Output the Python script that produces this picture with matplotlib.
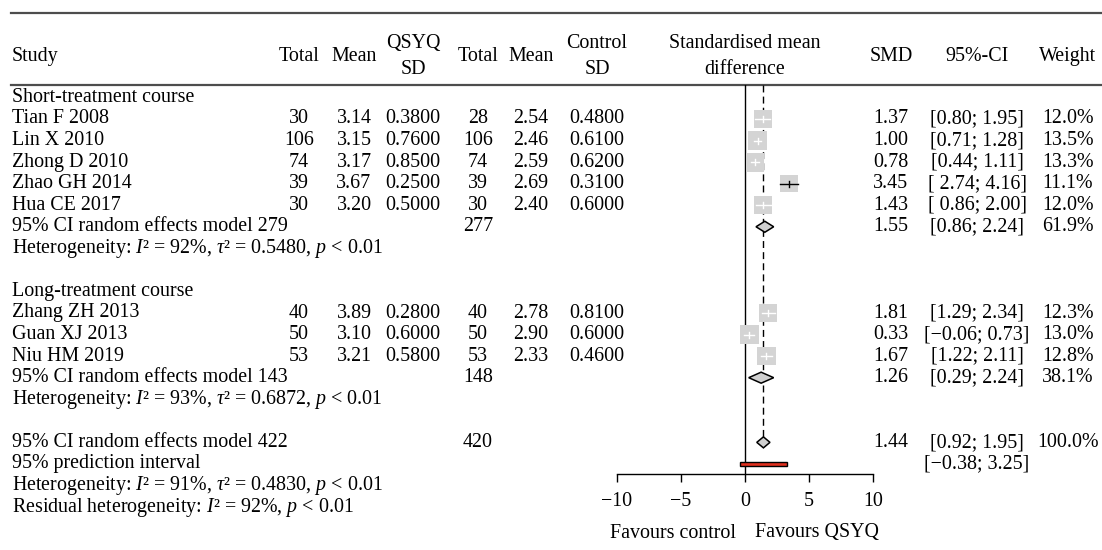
import matplotlib
matplotlib.use("Agg")
import matplotlib.pyplot as plt
from matplotlib.patches import Rectangle, Polygon
import numpy as np

plt.rcParams['font.family'] = ['Liberation Serif', 'DejaVu Serif']
plt.rcParams['mathtext.fontset'] = 'custom'
plt.rcParams['mathtext.rm'] = 'Liberation Serif'
plt.rcParams['mathtext.it'] = 'Liberation Serif:italic'

# ---- data ----
studies = ["Tian F 2008", "Lin X 2010", "Zhong D 2010", "Zhao GH 2014", "Hua CE 2017",
           "Zhang ZH 2013", "Guan XJ 2013", "Niu HM 2019"]
study_rows = [1, 2, 3, 4, 5, 10, 11, 12]
n_qsyq = [30, 106, 74, 39, 30, 40, 50, 53]
mean_qsyq = [3.14, 3.15, 3.17, 3.67, 3.20, 3.89, 3.10, 3.21]
sd_qsyq = [0.38, 0.76, 0.85, 0.25, 0.50, 0.28, 0.60, 0.58]
n_ctrl = [28, 106, 74, 39, 30, 40, 50, 53]
mean_ctrl = [2.54, 2.46, 2.59, 2.69, 2.40, 2.78, 2.90, 2.33]
sd_ctrl = [0.48, 0.61, 0.62, 0.31, 0.60, 0.81, 0.60, 0.46]
smd = [1.37, 1.00, 0.78, 3.45, 1.43, 1.81, 0.33, 1.67]
ci_lo = [0.80, 0.71, 0.44, 2.74, 0.86, 1.29, -0.06, 1.22]
ci_hi = [1.95, 1.28, 1.11, 4.16, 2.00, 2.34, 0.73, 2.11]
weight = [12.0, 13.5, 13.3, 11.1, 12.0, 12.3, 13.0, 12.8]
ci_padded = ["Zhao GH 2014", "Hua CE 2017"]

group_titles = ["Short-treatment course", "Long-treatment course"]
group_rows = [0, 9]

pooled_rows = [6, 13, 16]
pooled_n_qsyq = [279, 143, 422]
pooled_n_ctrl = [277, 148, 420]
pooled_smd = [1.55, 1.26, 1.44]
pooled_lo = [0.86, 0.29, 0.92]
pooled_hi = [2.24, 2.24, 1.95]
pooled_weight = [61.9, 38.1, 100.0]

pred_lo, pred_hi = -0.38, 3.25
pred_row = 17

het_rows = [7, 14, 18, 19]
het_text = [r"Heterogeneity: $I$² = 92%, $\tau$² = 0.5480, $p$ < 0.01",
            r"Heterogeneity: $I$² = 93%, $\tau$² = 0.6872, $p$ < 0.01",
            r"Heterogeneity: $I$² = 91%, $\tau$² = 0.4830, $p$ < 0.01",
            r"Residual heterogeneity: $I$² = 92%, $p$ < 0.01"]

xticks = [-10, -5, 0, 5, 10]

# ---- layout (pixels) ----
W, H = 1102, 550
Y0, DY = 97.4, 21.56          # first row centre, row spacing
FS = 14.4
PX_UNIT = 12.8


def row(px):
    return (px - Y0) / DY


def fmt_ci(lo, hi, pad=False):
    s = "[{}{:.2f}; {:.2f}]".format(" " if pad else "", lo, hi)
    return s.replace("-", "\u2212")


fig = plt.figure(figsize=(W / 100, H / 100), dpi=100)
ax = fig.add_axes([0, 0, 1, 1])
ax.set_xlim(0, W)
ax.set_ylim(row(H), row(0))
ax.axis('off')

# column x positions
x_study = 12
x_nq, x_mq, x_sq = 299, 354, 413
x_nc, x_mc, x_sc = 478, 531, 597
x_smd, x_ci, x_w = 891, 977, 1068

# rules
ax.plot([11, W], [row(12.5)] * 2, color='#4d4d4d', lw=1.6)
ax.plot([11, W], [row(85)] * 2, color='#4d4d4d', lw=1.6)

# header
hy, hy1, hy2 = row(56), row(43), row(69)
ax.text(x_study, hy, "Study", fontsize=FS, va='center', ha='left')
ax.text(x_nq, hy, "Total", fontsize=FS, va='center', ha='center')
ax.text(x_mq, hy, "Mean", fontsize=FS, va='center', ha='center')
ax.text(x_sq, hy1, "QSYQ", fontsize=FS, va='center', ha='center')
ax.text(x_sq, hy2, "SD", fontsize=FS, va='center', ha='center')
ax.text(x_nc, hy, "Total", fontsize=FS, va='center', ha='center')
ax.text(x_mc, hy, "Mean", fontsize=FS, va='center', ha='center')
ax.text(x_sc, hy1, "Control", fontsize=FS, va='center', ha='center')
ax.text(x_sc, hy2, "SD", fontsize=FS, va='center', ha='center')
ax.text(745, hy1, "Standardised mean", fontsize=FS, va='center', ha='center')
ax.text(745, hy2, "difference", fontsize=FS, va='center', ha='center')
ax.text(x_smd, hy, "SMD", fontsize=FS, va='center', ha='center')
ax.text(x_ci, hy, "95%-CI", fontsize=FS, va='center', ha='center')
ax.text(x_w, hy, "Weight", fontsize=FS, va='center', ha='center')

for t, r in zip(group_titles, group_rows):
    ax.text(x_study, r, t, fontsize=FS, va='center', ha='left')

for i, r in enumerate(study_rows):
    ax.text(x_study, r, studies[i], fontsize=FS, va='center', ha='left')
    ax.text(x_nq, r, str(n_qsyq[i]), fontsize=FS, va='center', ha='center')
    ax.text(x_mq, r, "{:.2f}".format(mean_qsyq[i]), fontsize=FS, va='center', ha='center')
    ax.text(x_sq, r, "{:.4f}".format(sd_qsyq[i]), fontsize=FS, va='center', ha='center')
    ax.text(x_nc, r, str(n_ctrl[i]), fontsize=FS, va='center', ha='center')
    ax.text(x_mc, r, "{:.2f}".format(mean_ctrl[i]), fontsize=FS, va='center', ha='center')
    ax.text(x_sc, r, "{:.4f}".format(sd_ctrl[i]), fontsize=FS, va='center', ha='center')
    ax.text(x_smd, r, "{:.2f}".format(smd[i]), fontsize=FS, va='center', ha='center')
    ax.text(x_ci, r, fmt_ci(ci_lo[i], ci_hi[i], studies[i] in ci_padded),
            fontsize=FS, va='center', ha='center')
    ax.text(x_w, r, "{:.1f}%".format(weight[i]), fontsize=FS, va='center', ha='center')

for j, r in enumerate(pooled_rows):
    ax.text(x_study, r, "95% CI random effects model {}".format(pooled_n_qsyq[j]),
            fontsize=FS, va='center', ha='left')
    ax.text(x_nc, r, str(pooled_n_ctrl[j]), fontsize=FS, va='center', ha='center')
    ax.text(x_smd, r, "{:.2f}".format(pooled_smd[j]), fontsize=FS, va='center', ha='center')
    ax.text(x_ci, r, fmt_ci(pooled_lo[j], pooled_hi[j]), fontsize=FS, va='center', ha='center')
    ax.text(x_w, r, "{:.1f}%".format(pooled_weight[j]), fontsize=FS, va='center', ha='center')

ax.text(x_study, pred_row, "95% prediction interval", fontsize=FS, va='center', ha='left')
ax.text(x_ci, pred_row, fmt_ci(pred_lo, pred_hi), fontsize=FS, va='center', ha='center')

for t, r in zip(het_text, het_rows):
    ax.text(x_study, r, t, fontsize=FS, va='center', ha='left')

ax.text(736, row(533), "Favours control", fontsize=FS, va='center', ha='right')
ax.text(755, row(533), "Favours QSYQ", fontsize=FS, va='center', ha='left')

# ---- forest panel ----
fx0 = 617
fax = fig.add_axes([fx0 / W, 1 - 474 / H, 256 / W, (474 - 85) / H])
fax.set_xlim(-10, 10)
fax.set_ylim(row(474), row(85))
fax.patch.set_visible(False)
for s in ['top', 'left', 'right']:
    fax.spines[s].set_visible(False)
fax.spines['bottom'].set_linewidth(1.0)
fax.set_yticks([])
fax.set_xticks(xticks)
fax.tick_params(axis='x', direction='out', length=6, width=1.0, pad=7, labelsize=FS)

fax.axvline(0, color='black', lw=1.0)
fax.plot([pooled_smd[2]] * 2, [row(85), pooled_rows[2] - 5 / DY],
         color='black', lw=1.0, ls=(0, (5, 3)))

for i, r in enumerate(study_rows):
    side = 5.2 * np.sqrt(weight[i])
    wd, ht = side / PX_UNIT, side / DY
    fax.add_patch(Rectangle((smd[i] - wd / 2, r - ht / 2), wd, ht,
                            facecolor='#d4d4d4', edgecolor='none', zorder=2))
    inside = (ci_hi[i] - ci_lo[i]) < wd
    col = 'white' if inside else 'black'
    fax.plot([ci_lo[i], ci_hi[i]], [r, r], color=col, lw=1.0, zorder=3)
    fax.plot([smd[i], smd[i]], [r - 3 / DY, r + 3 / DY], color=col, lw=1.0, zorder=3)

hd = 5.5 / DY
for j, r in enumerate(pooled_rows):
    fax.add_patch(Polygon([(pooled_lo[j], r), (pooled_smd[j], r - hd),
                           (pooled_hi[j], r), (pooled_smd[j], r + hd)],
                          closed=True, facecolor='#d0d0d0', edgecolor='black',
                          lw=1.1, zorder=3))

fax.add_patch(Rectangle((pred_lo, pred_row - 2 / DY), pred_hi - pred_lo, 4 / DY,
                        facecolor='#e0301e', edgecolor='black', lw=1.0, zorder=3))

fig.savefig("out.png", dpi=100)
